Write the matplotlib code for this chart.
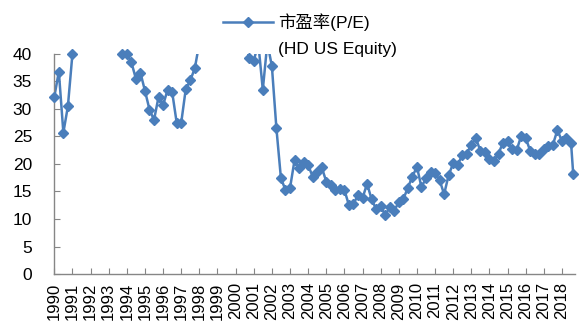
import numpy as np
import matplotlib
matplotlib.use("Agg")
import matplotlib.pyplot as plt
from matplotlib.lines import Line2D

plt.rcParams['font.family'] = ['Liberation Sans', 'Noto Sans CJK SC']

# 季度市盈率, 1990Q1 起; 最后一个点为最新值
pe = [32.2, 36.8, 25.7, 30.5, 40.0, 43.0, 46.0, 49.0, 52.0, 48.0,
      50.0, 47.0, 45.0, 44.0, 42.0, 40.0, 40.0, 38.5, 35.5, 36.6,
      33.3, 29.9, 28.0, 32.2, 30.7, 33.5, 33.1, 27.5, 27.5, 33.6,
      35.2, 37.4, 42.0, 46.0, 50.0, 55.0, 61.0, 58.0, 64.0, 57.0,
      52.0, 47.0, 43.0, 39.3, 38.7, 42.0, 33.5, 42.0, 37.8, 26.5,
      17.4, 15.3, 15.6, 20.7, 19.2, 20.3, 19.8, 17.7, 18.5, 19.4,
      16.8, 16.2, 15.3, 15.4, 15.3, 12.5, 12.7, 14.4, 13.8, 16.4,
      13.6, 11.8, 12.4, 10.7, 12.1, 11.5, 13.1, 13.6, 15.7, 17.7,
      19.5, 15.8, 17.4, 18.6, 18.3, 17.1, 14.5, 18.0, 20.1, 19.9,
      21.6, 21.9, 23.5, 24.7, 22.4, 22.1, 20.9, 20.6, 21.9, 23.9,
      24.1, 22.7, 22.5, 25.1, 24.7, 22.4, 21.8, 21.8, 22.8, 23.3,
      23.5, 26.2, 24.1, 24.7, 23.9, 18.2]
last_date = 2018.62
years = list(range(1990, 2019))
legend_lines = ["市盈率(P/E)", "(HD US Equity)"]

BLUE = "#4a7ebb"
GRAY = "#868686"
YMAX = 40

dates = np.append(1990 + np.arange(len(pe) - 1) / 4.0, last_date)
pe = np.array(pe)

fig = plt.figure(figsize=(5.82, 3.27), dpi=100)
ax = fig.add_axes([0.0933, 0.162, 0.8947, 0.673])

# 折线超出 40 的部分被裁掉, 标记点单独画以免顶端被切半
ax.plot(dates, pe, color=BLUE, lw=1.8, zorder=2)
ax.plot(dates, np.where(pe <= YMAX, pe, np.nan), ls="none", marker="D",
        ms=5.5, color=BLUE, clip_on=False, zorder=3)

ax.set_xlim(1990, 2018.72)
ax.set_ylim(0, YMAX)
ax.set_yticks(range(0, 41, 5))
ax.set_xticks(years)
ax.set_xticklabels([str(y) for y in years], rotation=90, fontsize=12)
ax.tick_params(axis="y", direction="in", length=4, color=GRAY, pad=16,
               labelsize=12.5)
ax.tick_params(axis="x", direction="in", length=4, color=GRAY, pad=6)
for s in ("top", "right"):
    ax.spines[s].set_visible(False)
for s in ("left", "bottom"):
    ax.spines[s].set_color(GRAY)
    ax.spines[s].set_linewidth(1.0)

handles = [Line2D([], [], color=BLUE, lw=1.8, marker="D", ms=5.5),
           Line2D([], [], ls="none")]
fig.legend(handles, legend_lines, loc="upper left",
           bbox_to_anchor=(0.365, 0.99), frameon=False, fontsize=12.5,
           handlelength=2.9, handletextpad=0.3, labelspacing=0.62,
           borderaxespad=0.2)

fig.savefig("out.png", dpi=100)
